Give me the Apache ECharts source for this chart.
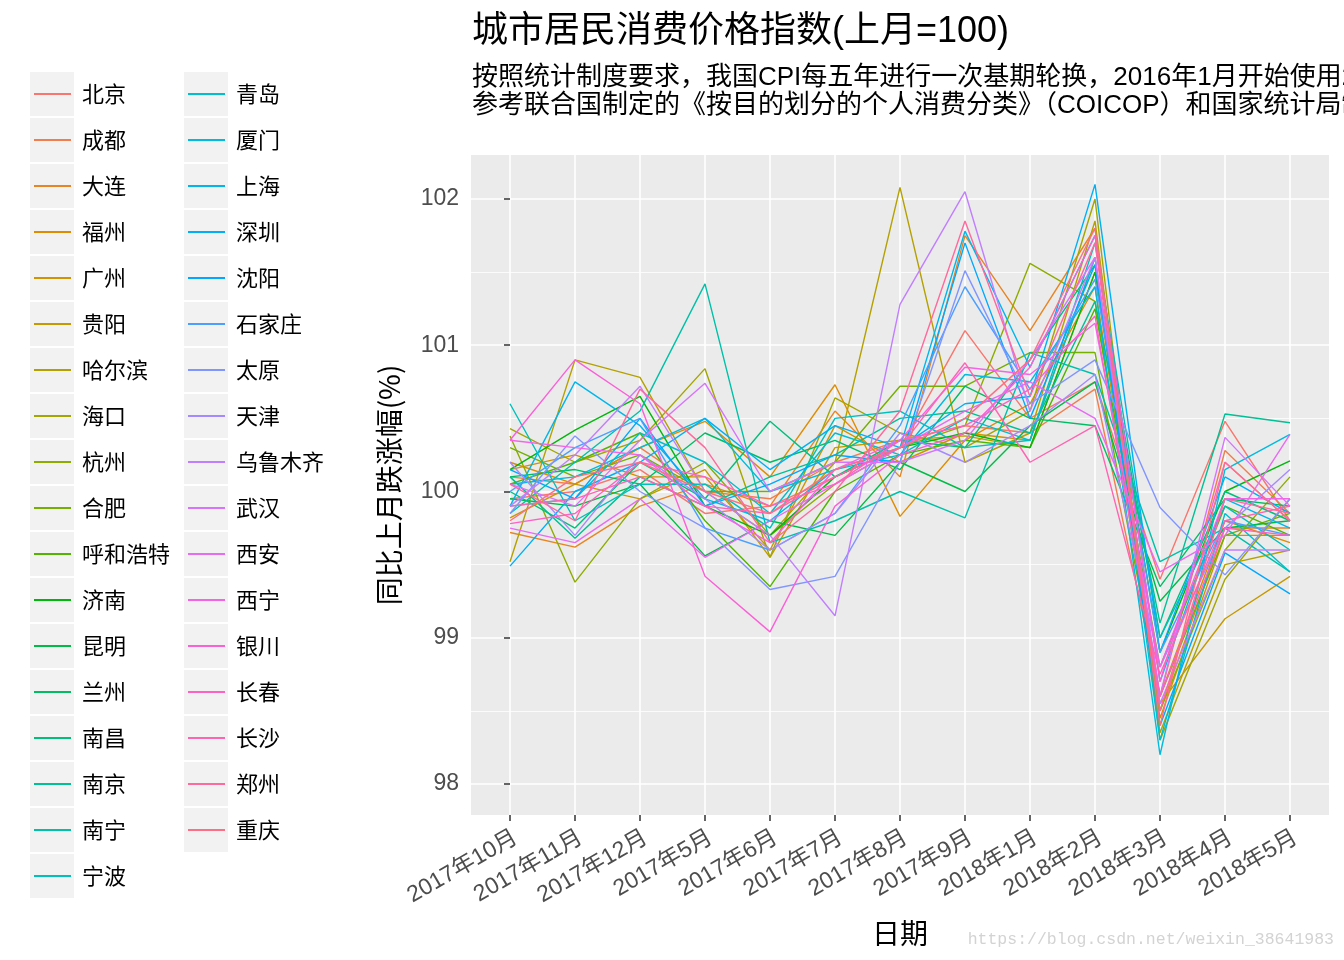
<!DOCTYPE html>
<html><head><meta charset="utf-8">
<script src="https://cdn.jsdelivr.net/npm/echarts@6/dist/echarts.min.js"></script>
<style>html,body{margin:0;padding:0;background:#fff}#c{width:1344px;height:960px}</style>
</head><body><div id="c"></div>
<script>
const cities = ['北京','成都','大连','福州','广州','贵阳','哈尔滨','海口','杭州','合肥','呼和浩特','济南','昆明','兰州','南昌','南京','南宁','宁波',
  '青岛','厦门','上海','深圳','沈阳','石家庄','太原','天津','乌鲁木齐','武汉','西安','西宁','银川','长春','长沙','郑州','重庆'];
const months = ['2017年10月','2017年11月','2017年12月','2017年5月','2017年6月','2017年7月','2017年8月','2017年9月','2018年1月','2018年2月','2018年3月','2018年4月','2018年5月'];
const yTicks = [98, 99, 100, 101, 102];
const yMinorTicks = [98.5, 99.5, 100.5, 101.5];
// one row per city, one value per month (in the order of `months`)
const cpi = [
  [99.95,100.0,100.15,99.85,99.9,100.1,100.3,101.1,100.5,100.75,99.4,100.48,99.8],
  [100.1,100.05,100.3,100.0,99.95,100.2,100.35,100.45,100.4,100.7,98.6,100.28,99.85],
  [99.72,99.62,99.9,100.05,99.9,100.55,100.1,101.75,101.1,101.8,98.5,99.75,99.75],
  [100.2,100.05,100.3,100.48,100.1,100.73,99.83,100.35,100.6,101.4,98.6,99.8,99.65],
  [100.15,100.25,100.1,100.1,99.6,100.45,100.2,100.4,100.35,101.6,98.45,99.7,99.7],
  [99.82,100.05,99.95,100.15,99.55,100.3,100.35,100.38,100.3,101.5,98.55,99.13,99.42],
  [99.52,100.9,100.78,100.0,99.7,100.2,102.08,100.2,100.4,101.85,98.35,99.5,99.6],
  [100.43,100.2,100.35,100.84,99.55,100.64,100.4,100.3,100.55,102.0,98.3,99.4,99.95],
  [100.38,99.38,99.95,100.2,99.7,100.05,100.3,100.45,101.56,101.3,98.5,99.6,100.1],
  [100.3,100.1,100.25,100.0,100.0,100.2,100.72,100.72,100.95,100.95,98.6,99.7,99.85],
  [100.05,100.2,100.4,99.8,99.35,100.0,100.25,100.35,100.3,101.25,98.8,99.9,99.7],
  [100.15,100.42,100.65,99.9,99.7,100.1,100.3,100.4,100.3,101.5,98.9,100.0,100.21],
  [99.95,99.9,100.05,99.56,99.8,99.7,100.2,100.0,100.45,100.75,99.25,99.75,99.8],
  [100.1,100.15,100.05,100.4,100.2,100.35,100.15,100.72,100.5,100.45,99.35,99.95,99.9],
  [100.0,99.75,100.2,99.95,100.48,100.1,100.35,100.3,100.9,101.55,99.0,100.0,99.8],
  [100.1,99.68,100.1,99.9,100.1,100.25,100.5,100.55,100.4,101.3,99.1,100.53,100.47],
  [99.85,100.2,100.55,101.42,99.65,99.8,100.0,99.82,100.95,100.8,99.52,99.75,99.45],
  [100.6,99.8,100.05,100.05,99.75,100.5,100.55,100.3,100.35,101.7,99.0,99.9,99.6],
  [99.9,99.95,100.4,100.2,99.85,100.4,100.25,100.5,100.35,101.6,98.3,99.85,99.45],
  [100.05,100.1,100.3,100.5,100.0,100.15,100.25,100.8,100.75,101.4,98.2,100.15,100.39],
  [99.9,100.75,100.45,99.95,99.8,100.15,100.3,101.78,100.85,101.75,98.7,99.95,99.75],
  [99.49,100.0,100.2,100.5,100.15,100.45,100.3,100.6,100.65,102.1,98.9,100.1,99.85],
  [100.15,99.95,100.5,99.9,100.05,100.25,100.2,101.7,100.5,101.55,98.4,99.58,99.3],
  [100.0,100.3,100.5,99.75,99.6,99.85,100.45,101.4,100.7,101.45,98.9,99.8,99.7],
  [99.85,100.38,100.0,99.75,99.33,99.42,100.2,101.51,100.6,100.9,99.89,99.43,99.95],
  [100.2,99.7,100.25,99.95,99.6,99.85,100.4,100.2,100.45,100.8,98.8,99.75,100.15],
  [99.9,100.25,100.72,100.0,99.7,99.15,101.28,102.05,100.55,101.6,98.55,99.6,99.6],
  [100.05,99.9,100.35,100.74,100.0,100.2,100.2,100.35,100.9,101.6,98.6,100.37,99.9],
  [99.75,99.65,99.95,99.55,99.8,100.05,100.3,100.55,100.75,100.5,99.45,99.7,100.39],
  [100.35,100.3,100.25,99.9,99.65,100.15,100.35,100.85,100.8,101.15,98.8,99.95,99.95],
  [100.35,100.9,100.6,99.42,99.04,99.9,100.25,100.4,100.85,101.75,98.7,100.2,99.8],
  [99.78,99.85,100.2,100.1,99.9,100.05,100.35,100.45,100.7,101.2,98.6,99.75,99.7],
  [99.9,99.95,100.1,99.9,99.85,100.1,100.3,100.88,100.2,100.45,98.75,99.8,99.9],
  [100.05,99.8,100.7,100.3,99.65,100.0,100.55,101.85,100.65,101.7,98.5,99.95,99.85],
  [99.8,100.1,100.2,100.0,99.85,100.15,100.3,100.5,100.9,101.8,98.4,100.2,99.8]
];

// ggplot2 default hue palette (HCL, c=100, l=65)
function hcl(h, c, l) {
  const rad = h * Math.PI / 180, U = c * Math.cos(rad), V = c * Math.sin(rad);
  const Xn = 95.047, Yn = 100, Zn = 108.883;
  const Y = l > 8 ? Yn * Math.pow((l + 16) / 116, 3) : Yn * l / 903.3;
  const t = Xn + 15 * Yn + 3 * Zn, un = 4 * Xn / t, vn = 9 * Yn / t;
  const u = U / (13 * l) + un, v = V / (13 * l) + vn;
  const X = 9 * Y * u / (4 * v), Z = -X / 3 - 5 * Y + 3 * Y / v;
  const x = X / 100, y = Y / 100, z = Z / 100;
  const lin = [3.240479 * x - 1.537150 * y - 0.498535 * z,
               -0.969256 * x + 1.875992 * y + 0.041556 * z,
               0.055648 * x - 0.204043 * y + 1.057311 * z];
  return '#' + lin.map(c0 => {
    let g = c0 <= 0.0031308 ? 12.92 * c0 : 1.055 * Math.pow(c0, 1 / 2.4) - 0.055;
    g = Math.max(0, Math.min(1, g));
    return Math.round(g * 255).toString(16).padStart(2, '0');
  }).join('');
}
const n = cities.length;
const colors = cities.map((_, i) => hcl(15 + i * 360 / n, 100, 65));

const FONT = "'Liberation Sans','Noto Sans CJK SC',sans-serif";
const LFONT = "'Noto Sans CJK SC','Liberation Sans',sans-serif";

const GRID = { left: 471, top: 155, width: 858, height: 660 };
const Y0 = 98, Y1 = 102, PY0 = 784, PY1 = 199;
const pxPerUnit = (PY0 - PY1) / (Y1 - Y0);
const yMin = Y0 - (GRID.top + GRID.height - PY0) / pxPerUnit;
const yMax = Y1 + (PY1 - GRID.top) / pxPerUnit;
const xMin = -0.6, xMax = months.length - 1 + 0.6;

const col1 = cities.slice(0, 18), col2 = cities.slice(18);
const legendBase = {
  orient: 'vertical', top: 72, padding: 0, itemGap: 2, itemWidth: 37, itemHeight: 2,
  icon: 'rect', selectedMode: false,
  textStyle: { fontSize: 22, lineHeight: 44, color: '#000', fontFamily: LFONT, padding: [0, 0, 0, 6] }
};
const keyRects = [];
[[col1, 30], [col2, 184]].forEach(([arr, x]) => {
  arr.forEach((_, i) => keyRects.push({
    type: 'rect', left: x, top: 72 + i * 46, z: -1,
    shape: { width: 44, height: 44 }, style: { fill: '#F2F2F2' }
  }));
});

const chart = echarts.init(document.getElementById('c'), null, { renderer: 'canvas' });
chart.setOption({
  animation: false,
  backgroundColor: '#fff',
  title: {
    text: '城市居民消费价格指数(上月=100)',
    subtext: '按照统计制度要求，我国CPI每五年进行一次基期轮换，2016年1月开始使用2015年作为新一轮的对比基期\n参考联合国制定的《按目的划分的个人消费分类》（COICOP）和国家统计局制定的统计标准',
    left: 472, top: 12, padding: 0, itemGap: 12,
    textStyle: { fontSize: 36, fontWeight: 'normal', color: '#000', fontFamily: FONT, lineHeight: 40 },
    subtextStyle: { fontSize: 26, color: '#000', fontFamily: FONT, lineHeight: 28 }
  },
  legend: [
    Object.assign({}, legendBase, { left: 34, data: col1 }),
    Object.assign({}, legendBase, { left: 188, data: col2 })
  ],
  grid: Object.assign({ show: true, backgroundColor: '#EBEBEB', borderWidth: 0, containLabel: false }, GRID),
  xAxis: {
    type: 'value', min: xMin, max: xMax,
    name: '日期', nameLocation: 'middle', nameGap: 104,
    nameTextStyle: { fontSize: 28, color: '#000', fontFamily: LFONT },
    axisLine: { show: false },
    axisTick: { show: true, length: 6, lineStyle: { color: '#333', width: 1.5 }, customValues: months.map((_, i) => i) },
    axisLabel: {
      customValues: months.map((_, i) => i), rotate: 30, margin: 11, verticalAlign: 'top',
      fontSize: 23, color: '#4D4D4D', fontFamily: FONT,
      formatter: v => months[Math.round(v)]
    },
    splitLine: { show: true, lineStyle: { color: '#fff', width: 1.6 } }
  },
  yAxis: [{
    type: 'value', min: yMin, max: yMax,
    name: '同比上月跌涨幅(%)', nameLocation: 'middle', nameGap: 68, nameRotate: 90,
    nameTextStyle: { fontSize: 28, color: '#000', fontFamily: LFONT },
    axisLine: { show: false },
    axisTick: { show: true, length: 6, lineStyle: { color: '#333', width: 1.5 }, customValues: yTicks },
    axisLabel: { customValues: yTicks, margin: 12, fontSize: 23, color: '#4D4D4D', fontFamily: FONT },
    splitLine: { show: true, lineStyle: { color: '#fff', width: 1.6 } }
  }, {
    type: 'value', min: yMin, max: yMax, position: 'left',
    axisLine: { show: false },
    axisTick: { show: false, customValues: yMinorTicks },
    axisLabel: { show: false, customValues: yMinorTicks },
    splitLine: { show: true, lineStyle: { color: '#fff', width: 0.8 } }
  }],
  graphic: keyRects.concat([{
    type: 'text', right: 10, top: 931,
    style: { text: 'https://blog.csdn.net/weixin_38641983', fill: '#D3D3D3', font: "16.5px 'Liberation Mono', monospace" }
  }]),
  series: cities.map((name, i) => ({
    name, type: 'line', symbol: 'none', showSymbol: false, silent: true,
    yAxisIndex: 0,
    data: cpi[i].map((v, j) => [j, v]),
    lineStyle: { width: 1.4, color: colors[i] },
    itemStyle: { color: colors[i] },
    emphasis: { disabled: true }
  }))
});
</script>
</body></html>
